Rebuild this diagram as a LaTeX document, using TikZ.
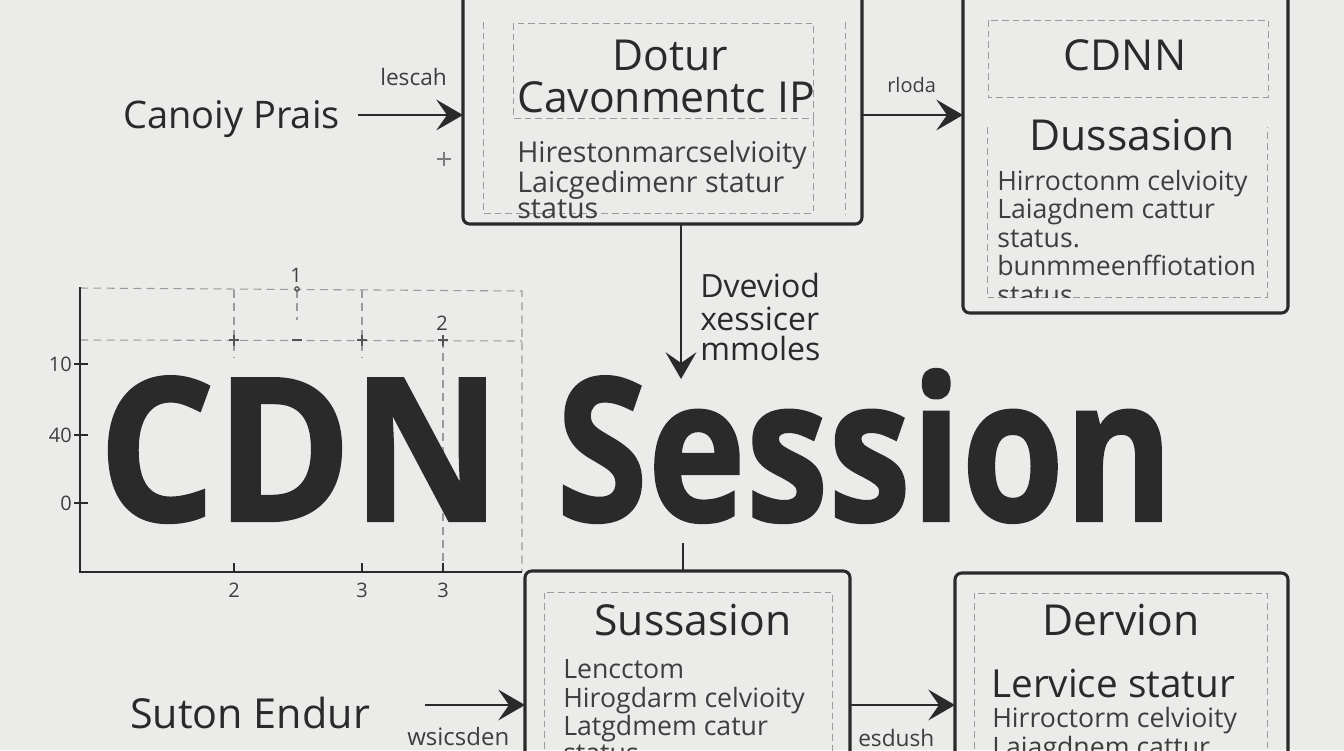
\documentclass[tikz,border=0pt]{standalone}
\usepackage{fontspec}
\setmainfont{Open Sans}
\newfontfamily\heavyfont{Open Sans}[FakeBold=1.2]
\usetikzlibrary{arrows.meta}
\definecolor{bg}{HTML}{EBEBEA}
\definecolor{ink}{HTML}{2A2A2A}
\definecolor{txt}{HTML}{3E3E3E}
\definecolor{dsh}{HTML}{9A9A9A}
\newcommand{\fs}[1]{\fontsize{#1pt}{#1pt}\selectfont}
\begin{document}
\begin{tikzpicture}[x=0.75pt,y=-0.75pt,
 box/.style={draw=ink, line width=2.3pt, rounded corners=5pt, inner sep=0pt, outer sep=0pt},
 dbox/.style={draw=dsh, line width=0.7pt, dash pattern=on 5pt off 3pt},
 arr/.style={draw=ink, line width=2.2pt, -{Stealth[length=20pt,width=23pt,inset=8pt]}},
 ln/.style={draw=ink, line width=2.2pt},
 ttl/.style={text=ink, inner sep=0pt, anchor=base, font=\fs{32}},
 bod/.style={text=txt, inner sep=0pt, anchor=base west, font=\fs{20}},
 lbl/.style={text=txt, inner sep=0pt, anchor=base west, font=\fs{16}},
 big/.style={text=ink, inner sep=0pt, anchor=base west},
 ax/.style={draw=ink, line width=1.3pt},
 grd/.style={draw=dsh, line width=0.8pt, dash pattern=on 6pt off 4pt},
 tk/.style={text=txt, inner sep=0pt, font=\fs{15}},
 mk/.style={draw=ink!80, line width=0.9pt},
]
\useasboundingbox (0,0) rectangle (1344,750);
\fill[bg] (0,0) rectangle (1344,750);
\clip (0,0) rectangle (1344,750);

% ---------- chart ----------
\draw[grd] (80,288) -- (522,291) -- (522,572);
\draw[grd] (80,340) -- (522,341);
\draw[grd] (234,290) -- (234,357);
\draw[grd] (297,290) -- (297,320);
\draw[grd] (362,290) -- (362,358);
\draw[grd] (443,340) -- (443,572);
\draw[ax] (80,287) -- (80,572) -- (522,572);
\foreach \yy/\tl in {364/10,435/40,503/0}{
  \draw[ax] (74,\yy) -- (88,\yy);
  \node[tk, anchor=east] at (72,\yy) {\tl};
}
\foreach \xx/\tl in {234/2,362/3,443/3}{
  \draw[ax] (\xx,563) -- (\xx,572);
  \node[tk] at (\xx,590) {\tl};
}
\node[tk] (n1) at (296,275) {1};
\node[tk] (n2) at (442,323) {2};
\draw[mk] (297,289) circle (2.2);
\foreach \xx in {234,362,443}{\draw[mk] (\xx-5,340) -- (\xx+5,340) (\xx,335) -- (\xx,346);}
\draw[mk] (292,340) -- (302,340);

% ---------- big title ----------
\node[big] (cdn) at (98,521) {\scalebox{0.92}[1]{\fs{150}\heavyfont\bfseries CDN}};
\node[big] (ses) at (556,521) {\scalebox{0.83}[1]{\fs{150}\heavyfont\bfseries Session}};

% ---------- box 1 ----------
\node[box, minimum width=299.25pt, minimum height=175.5pt] (b1) at (662.5,107) {};
\draw[dbox] (513,23) rectangle (813,118);
\draw[dbox] (483,22) -- (483,213) -- (813,213) -- (813,118);
\draw[dbox] (845,22) -- (845,215);
\node[ttl] (t1a) at (670,70) {Dotur};
\node[ttl] (t1b) at (666,112) {Cavonmentc IP};
\node[bod, font=\fs{21.5}] (t1c) at (517,162) {Hirestonmarcselvioity};
\node[bod, font=\fs{21.5}] (t1d) at (517,192) {Laicgedimenr statur};
\node[bod, font=\fs{21.5}] (t1e) at (517,218) {status};

% ---------- box 2 ----------
\node[box, minimum width=243.75pt, minimum height=242.25pt] (b2) at (1125.5,151.5) {};
\draw[dbox] (988,20) rectangle (1268,97);
\draw[dbox] (987,127) -- (987,297) -- (1267,297) -- (1267,127);
\node[ttl] (t2a) at (1125,70) {CDNN};
\node[ttl] (t2b) at (1132,150) {Dussasion};
\node[bod] (t2c) at (997,190) {Hirroctonm celvioity};
\node[bod] (t2d) at (997,218) {Laiagdnem cattur};
\node[bod] (t2e) at (997,247) {status.};
\node[bod] (t2f) at (997,275) {bunmmeenffiotation};
\begin{scope}
\clip (980,270) rectangle (1280,297);
\node[bod] (t2g) at (997,304) {status};
\end{scope}

% ---------- box 3 ----------
\node[box, minimum width=243.75pt, minimum height=149.25pt] (b3) at (687.5,670.5) {};
\draw[dbox] (544,770) -- (544,592) -- (832,592) -- (832,770);
\node[ttl] (t3a) at (693,635) {Sussasion};
\node[bod] (t3b) at (563,678) {Lencctom};
\node[bod] (t3c) at (563,707) {Hirogdarm celvioity};
\node[bod] (t3d) at (563,735) {Latgdmem catur};
\node[bod] (t3e) at (563,762) {status};

% ---------- box 4 ----------
\node[box, minimum width=249.75pt, minimum height=147.75pt] (b4) at (1121.5,671.5) {};
\draw[dbox] (974,770) -- (974,593) -- (1267,593) -- (1267,770);
\node[ttl] (t4a) at (1121,635) {Dervion};
\node[bod, text=ink, font=\fs{29}] (t4b) at (991,697) {Lervice statur};
\node[bod] (t4c) at (992,727) {Hirroctorm celvioity};
\node[bod] (t4d) at (992,756) {Laiagdnem cattur};

% ---------- outside labels ----------
\node[bod, text=ink, font=\fs{28.5}] (cp) at (123,128) {Canoiy Prais};
\node[bod, text=ink, font=\fs{31}] (se) at (130,728) {Suton Endur};
\node[lbl, font=\fs{17}] (l1) at (380,85) {lescah};
\node[lbl, font=\fs{15}] (l2) at (887,92) {rloda};
\node[lbl, font=\fs{18}] (l3) at (407,745) {wsicsden};
\node[lbl, font=\fs{17}] (l4) at (858,746) {esdush};
\node[bod, text=ink, font=\fs{24}] (d1) at (700,297) {Dveviod};
\node[bod, text=ink, font=\fs{24}] (d2) at (700,330) {xessicer};
\node[bod, text=ink, font=\fs{24}] (d3) at (700,360) {mmoles};
\draw[draw=dsh!80!black, line width=0.8pt] (437,159) -- (451,159) (444,152) -- (444,166);

% ---------- connectors ----------
\coordinate (a1s) at (358,115);
\draw[arr] (a1s) -- (a1s -| b1.west);
\draw[arr] (b1.east |- a1s) -- (b2.west |- a1s);
\coordinate (v1) at (681,379);
\draw[arr] (v1 |- b1.south) -- (v1);
\coordinate (v2) at (683,543);
\draw[ln] (v2) -- (v2 |- b3.north);
\coordinate (a3s) at (425,705);
\draw[arr] (a3s) -- (a3s -| b3.west);
\draw[arr] (b3.east |- a3s) -- (b4.west |- a3s);
\end{tikzpicture}
\end{document}
